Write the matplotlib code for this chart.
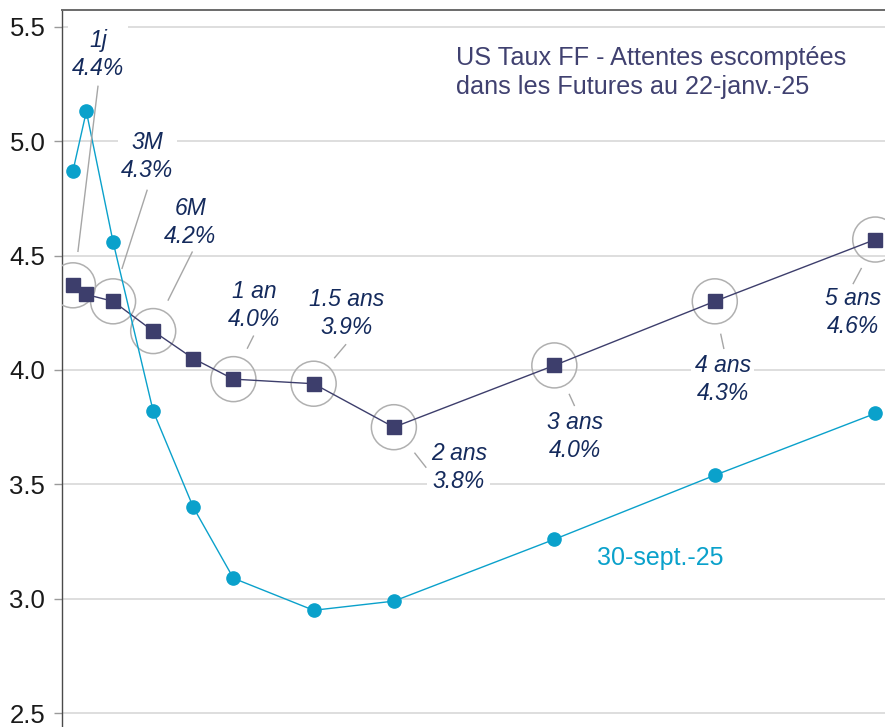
import matplotlib
matplotlib.use("Agg")
import matplotlib.pyplot as plt
from matplotlib.transforms import offset_copy

# Horizon of each contract, in months from today (0 = overnight)
months = [0, 1, 3, 6, 9, 12, 18, 24, 36, 48, 60]
# Fed Funds path implied by futures, 22-janv.-25
futures_jan = [4.37, 4.33, 4.30, 4.17, 4.05, 3.96, 3.94, 3.75, 4.02, 4.30, 4.57]
# Fed Funds path implied by futures, 30-sept.-25
futures_sep = [4.87, 5.13, 4.56, 3.82, 3.40, 3.09, 2.95, 2.99, 3.26, 3.54, 3.81]

# Tenors that get a circle and a label on the January curve
labelled_points = [0, 2, 3, 5, 6, 7, 8, 9, 10]
tenor_names = ["1j", "3M", "6M", "1 an", "1.5 ans", "2 ans", "3 ans", "4 ans", "5 ans"]

y_ticks = [2.5, 3.0, 3.5, 4.0, 4.5, 5.0, 5.5]

title_text = "US Taux FF - Attentes escomptées\ndans les Futures au 22-janv.-25"
sep_label = "30-sept.-25"

DARK = "#3d3e6c"
CYAN = "#0aa1cb"
NAVY = "#142a5c"
GREY_LEADER = "#a6a6a6"

plt.rcParams["font.family"] = ["Liberation Sans", "DejaVu Sans"]

fig = plt.figure(figsize=(8.85, 7.27), dpi=100)
ax = fig.add_axes([62 / 885, 0.0, 1 - 62 / 885, 717 / 727])

ax.set_xlim(-0.82, 60.73)
ax.set_ylim(2.44, 5.573)

ax.set_yticks(y_ticks)
ax.set_yticklabels([f"{t:.1f}" for t in y_ticks])
ax.set_xticks([])
ax.yaxis.grid(True, color="#d4d4d4", linewidth=1.1, zorder=0)
ax.set_axisbelow(True)

for side in ("right", "bottom"):
    ax.spines[side].set_visible(False)
ax.spines["left"].set_color("#4a4a4a")
ax.spines["left"].set_linewidth(1.0)
ax.spines["top"].set_color("#6a6a6a")
ax.spines["top"].set_linewidth(1.4)

ax.tick_params(axis="y", length=6, width=1.0, color="#9a9a9a", pad=6,
               labelsize=18.5, labelcolor="#1a1a1a")

# Curves
ax.plot(months, futures_jan, color=DARK, linewidth=1.0, marker="s",
        markersize=10, markerfacecolor=DARK, markeredgecolor=DARK, zorder=4)
ax.plot(months, futures_sep, color=CYAN, linewidth=1.0, marker="o",
        markersize=9.5, markerfacecolor=CYAN, markeredgecolor=CYAN, zorder=5)

# Highlight circles around the labelled tenors
ax.scatter([months[i] for i in labelled_points],
           [futures_jan[i] for i in labelled_points],
           s=1050, facecolors="none", edgecolors="#b0b0b0", linewidths=1.1,
           zorder=3)

# Label placement (pixels, y up): text offset, leader start, leader end
layout = [
    ((25, 231), (25, 199), (5, 34)),
    ((34, 145), (34, 111), (9, 33)),
    ((37, 109), (39, 79), (15, 31)),
    ((21, 74), (20, 43), (14, 31)),
    ((33, 70), (32, 39), (21, 26)),
    ((65, -40), (21, -26), (32, -40)),
    ((21, -71), (15, -29), (20, -40)),
    ((8, -78), (6, -33), (9, -47)),
    ((-22, -73), (-14, -29), (-22, -44)),
]

for idx, name, (txt, l0, l1) in zip(labelled_points, tenor_names, layout):
    x, y = months[idx], futures_jan[idx]
    t_tr = offset_copy(ax.transData, fig=fig, x=txt[0], y=txt[1], units="dots")
    ax.text(x, y, f"{name}\n{y:.1f}%", transform=t_tr, ha="center",
            va="center", fontsize=16.5, style="italic", color=NAVY,
            linespacing=1.27, zorder=6,
            bbox=dict(boxstyle="square,pad=0.15", facecolor="white",
                      edgecolor="none"))
    tr0 = offset_copy(ax.transData, fig=fig, x=l0[0], y=l0[1], units="dots")
    tr1 = offset_copy(ax.transData, fig=fig, x=l1[0], y=l1[1], units="dots")
    p0 = tr0.transform((x, y))
    p1 = tr1.transform((x, y))
    ax.add_line(plt.Line2D([p0[0], p1[0]], [p0[1], p1[1]], transform=None,
                           color=GREY_LEADER, linewidth=1.0, zorder=6))

ax.text(0.479, 0.913, title_text, transform=ax.transAxes, ha="left",
        va="center", fontsize=18.2, color="#404170", linespacing=1.3)

ax.text(43.9, 3.177, sep_label, ha="center", va="center", fontsize=18,
        color=CYAN)

fig.savefig("out.png", dpi=100)
